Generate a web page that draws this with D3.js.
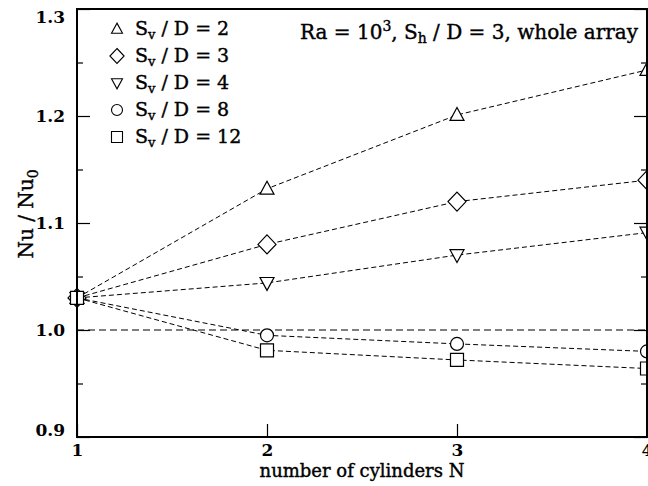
<!DOCTYPE html>
<html>
<head>
<meta charset="utf-8">
<script src="https://cdn.jsdelivr.net/npm/d3@7"></script>
<style>
  body { margin: 0; background: #fff; }
  svg { display: block; }
  text { font-family: "DejaVu Serif", serif; fill: #000; }
  .heavy { stroke: #000; stroke-width: 0.4px; }
</style>
</head>
<body>
<svg id="chart" width="648" height="486"></svg>
<script>
// Number of cylinders in the column
const cylinders = [1, 2, 3, 4];
// Nu / Nu0 for each vertical spacing Sv / D
const spacingLabels = ["2", "3", "4", "8", "12"];
const sv2 = [1.03, 1.132, 1.201, 1.243];
const sv3 = [1.03, 1.080, 1.120, 1.140];
const sv4 = [1.03, 1.044, 1.070, 1.091];
const sv8 = [1.03, 0.995, 0.987, 0.980];
const sv12 = [1.03, 0.981, 0.972, 0.964];
// Axis ticks
const yMajorTicks = [0.9, 1.0, 1.1, 1.2, 1.3];
const yMinorTicks = [0.95, 1.05, 1.15, 1.25];
const xTicks = [1, 2, 3, 4];
const referenceLevel = 1.0;

const series = [sv2, sv3, sv4, sv8, sv12];

const svg = d3.select("#chart");
const plotLeft = 77, plotRight = 647, plotTop = 9, plotBottom = 437;

const x = d3.scaleLinear().domain([1, 4]).range([plotLeft, plotRight]);
const y = d3.scaleLinear().domain([0.9, 1.3]).range([plotBottom, plotTop]);

// Marker shapes: triangle up, diamond, triangle down, circle, square
function tri(dir) {
  return {
    draw(ctx, size) {
      const w = Math.sqrt(size), h = w * 0.92;
      ctx.moveTo(0, -dir * h * 0.58);
      ctx.lineTo(w / 2, dir * h * 0.42);
      ctx.lineTo(-w / 2, dir * h * 0.42);
      ctx.closePath();
    }
  };
}
const diamond = {
  draw(ctx, size) {
    const r = Math.sqrt(size) / 2;
    ctx.moveTo(0, -r); ctx.lineTo(r * 0.95, 0); ctx.lineTo(0, r); ctx.lineTo(-r * 0.95, 0); ctx.closePath();
  }
};
const circle = {
  draw(ctx, size) { const r = Math.sqrt(size) / 2; ctx.moveTo(r, 0); ctx.arc(0, 0, r, 0, 2 * Math.PI); }
};
const square = {
  draw(ctx, size) { const s = Math.sqrt(size) / 2; ctx.rect(-s, -s, 2 * s, 2 * s); }
};
const shapeTypes = [tri(1), diamond, tri(-1), circle, square];
const markerSizes = [14, 19, 14, 13, 13];

// Reference line at Nu/Nu0 = 1
svg.append("line")
  .attr("x1", plotLeft).attr("x2", plotRight)
  .attr("y1", y(referenceLevel)).attr("y2", y(referenceLevel))
  .attr("stroke", "#000").attr("stroke-width", 1.1)
  .attr("stroke-dasharray", "7,4");

// Data lines
const line = d3.line().x((d, i) => x(cylinders[i])).y(d => y(d));
series.forEach(s => {
  svg.append("path")
    .attr("d", line(s))
    .attr("fill", "none")
    .attr("stroke", "#000")
    .attr("stroke-width", 1)
    .attr("stroke-dasharray", "5,3");
});

// Markers
series.forEach((s, k) => {
  const sym = d3.symbol(shapeTypes[k], markerSizes[k] * markerSizes[k]);
  svg.append("g").selectAll("path")
    .data(s)
    .join("path")
    .attr("transform", (d, i) => `translate(${x(cylinders[i])},${y(d)})`)
    .attr("d", sym())
    .attr("fill", "#fff")
    .attr("stroke", "#000")
    .attr("stroke-width", 1.2);
});

// Axes with inward ticks
const leftAxis = svg.append("g").attr("transform", `translate(${plotLeft},0)`)
  .call(d3.axisLeft(y).tickValues(yMajorTicks).tickSize(-13).tickPadding(12).tickFormat(d3.format(".1f")));
leftAxis.selectAll("text")
  .attr("font-size", 17).attr("font-weight", "bold")
  .attr("dy", d => d === 1.3 ? "0.8em" : d === 0.9 ? "-0.1em" : "0.32em");
svg.append("g").attr("transform", `translate(${plotLeft},0)`)
  .call(d3.axisLeft(y).tickValues(yMinorTicks).tickSize(-6).tickFormat(""));
svg.append("g").attr("transform", `translate(${plotRight},0)`)
  .call(d3.axisRight(y).tickValues(yMajorTicks).tickSize(-13).tickFormat(""));
svg.append("g").attr("transform", `translate(${plotRight},0)`)
  .call(d3.axisRight(y).tickValues(yMinorTicks).tickSize(-6).tickFormat(""));
const bottomAxis = svg.append("g").attr("transform", `translate(0,${plotBottom})`)
  .call(d3.axisBottom(x).tickValues(xTicks).tickSize(-13).tickPadding(7).tickFormat(d3.format("d")));
bottomAxis.selectAll("text").attr("font-size", 17).attr("font-weight", "bold");

svg.selectAll(".domain").remove();
svg.selectAll(".tick line").attr("stroke", "#000").attr("stroke-width", 1.2);
svg.selectAll(".tick text").attr("fill", "#000").attr("font-family", "DejaVu Serif, serif");

// Frame
svg.append("rect")
  .attr("x", plotLeft).attr("y", plotTop)
  .attr("width", plotRight - plotLeft).attr("height", plotBottom - plotTop)
  .attr("fill", "none").attr("stroke", "#000").attr("stroke-width", 2);

// Axis titles
svg.append("text")
  .attr("class", "heavy")
  .attr("x", (plotLeft + plotRight) / 2).attr("y", 477)
  .attr("text-anchor", "middle").attr("font-size", 18)
  .text("number of cylinders N");

const yTitle = svg.append("text")
  .attr("class", "heavy")
  .attr("transform", "translate(33,214) rotate(-90)")
  .attr("text-anchor", "middle").attr("font-size", 20);
yTitle.append("tspan").text("Nu / Nu");
yTitle.append("tspan").attr("font-size", 14).attr("dy", 5).text("0");

// Legend
const legend = svg.append("g");
spacingLabels.forEach((lab, k) => {
  const ly = 29 + k * 27;
  const legendSize = k === 1 ? 15 : 11;
  legend.append("path")
    .attr("transform", `translate(117,${ly})`)
    .attr("d", d3.symbol(shapeTypes[k], legendSize * legendSize)())
    .attr("fill", "#fff").attr("stroke", "#000").attr("stroke-width", 1.1);
  const t = legend.append("text")
    .attr("class", "heavy")
    .attr("x", 135).attr("y", ly + 6)
    .attr("font-size", 19);
  t.append("tspan").text("S");
  t.append("tspan").attr("font-size", 13).attr("dy", 4).text("v");
  t.append("tspan").attr("dy", -4).text(" / D = " + lab);
});

// Case annotation
const note = svg.append("text")
  .attr("class", "heavy")
  .attr("x", 300).attr("y", 39)
  .attr("font-size", 20);
note.append("tspan").text("Ra = 10");
note.append("tspan").attr("font-size", 14).attr("dy", -8).text("3");
note.append("tspan").attr("dy", 8).text(", S");
note.append("tspan").attr("font-size", 14).attr("dy", 4).text("h");
note.append("tspan").attr("dy", -4).text(" / D = 3, whole array");
</script>
</body>
</html>
